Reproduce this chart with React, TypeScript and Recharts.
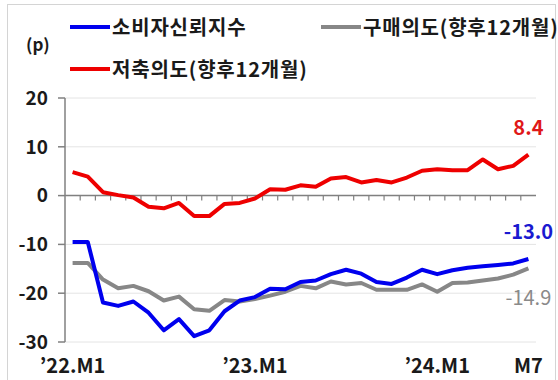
import React from 'react';
import {
  LineChart, Line, XAxis, YAxis, CartesianGrid, ReferenceLine, LabelList, Legend,
} from 'recharts';

const months: string[] = [
  "'22.M1", "'22.M2", "'22.M3", "'22.M4", "'22.M5", "'22.M6", "'22.M7", "'22.M8", "'22.M9", "'22.M10", "'22.M11", "'22.M12",
  "'23.M1", "'23.M2", "'23.M3", "'23.M4", "'23.M5", "'23.M6", "'23.M7", "'23.M8", "'23.M9", "'23.M10", "'23.M11", "'23.M12",
  "'24.M1", "'24.M2", "'24.M3", "'24.M4", "'24.M5", "'24.M6", "'24.M7",
];

const consumerConfidence: number[] = [
  -9.5, -9.5, -21.9, -22.6, -21.7, -24.0, -27.6, -25.3, -28.8, -27.6, -23.7, -21.5,
  -20.8, -19.1, -19.2, -17.7, -17.4, -16.1, -15.2, -16.0, -17.7, -18.1, -16.8, -15.2,
  -16.1, -15.3, -14.8, -14.5, -14.2, -13.9, -13.0,
];

const purchaseIntention: number[] = [
  -13.8, -13.8, -17.2, -19.0, -18.5, -19.6, -21.5, -20.7, -23.3, -23.6, -21.4, -21.7,
  -21.2, -20.5, -19.7, -18.5, -19.0, -17.6, -18.2, -17.9, -19.3, -19.3, -19.3, -18.2,
  -19.7, -17.9, -17.8, -17.4, -17.0, -16.2, -14.9,
];

const savingIntention: number[] = [
  4.8, 3.9, 0.7, 0.1, -0.4, -2.3, -2.6, -1.5, -4.2, -4.2, -1.7, -1.5,
  -0.6, 1.3, 1.2, 2.1, 1.8, 3.5, 3.8, 2.7, 3.2, 2.7, 3.7, 5.1,
  5.4, 5.2, 5.2, 7.4, 5.4, 6.1, 8.4,
];

const xTickIndices: number[] = [0, 12, 24, 30];
const xTickLabels: string[] = ['\u201922.M1', '\u201923.M1', '\u201924.M1', 'M7'];
const yTicks: number[] = [-30, -20, -10, 0, 10, 20];

const SERIES_NAMES = {
  consumer: '소비자신뢰지수',
  purchase: '구매의도(향후12개월)',
  saving: '저축의도(향후12개월)',
};

const COLORS = {
  consumer: '#0000ee',
  purchase: '#878787',
  saving: '#ee0000',
};

const FONT = '"Noto Sans CJK KR", "Noto Sans", sans-serif';

const data = months.map((m, i) => ({
  idx: i,
  month: m,
  consumer: consumerConfidence[i],
  purchase: purchaseIntention[i],
  saving: savingIntention[i],
}));

const boundaries = months.slice(1).map((_, i) => i + 0.5);
const lastIndex = months.length - 1;

const makeEndLabel = (color: string, offset: number, bold: boolean) => (props: any) => {
  const { x, y, index, value } = props;
  if (index !== lastIndex) return null;
  return (
    <text
      x={x}
      y={y + offset}
      dy={7}
      textAnchor="middle"
      fill={color}
      fontFamily={FONT}
      fontWeight={bold ? 700 : 400}
      fontSize={20}
    >
      {Number(value).toFixed(1)}
    </text>
  );
};

const XTick = (props: any) => {
  const { x, y, payload } = props;
  const k = xTickIndices.indexOf(payload.value);
  return (
    <text x={x} y={y} dy={31} textAnchor="middle" fill="#1a1a1a" fontFamily={FONT} fontWeight={700} fontSize={20}>
      {k >= 0 ? xTickLabels[k] : ''}
    </text>
  );
};

const LegendContent = () => {
  const item = (key: 'consumer' | 'purchase' | 'saving', left: number, top: number) => (
    <div style={{ position: 'absolute', left, top, display: 'flex', alignItems: 'center', whiteSpace: 'nowrap' }}>
      <svg width={42} height={6} style={{ display: 'block' }}>
        <line x1={0} y1={3} x2={40} y2={3} stroke={COLORS[key]} strokeWidth={4} />
      </svg>
      <span style={{ fontFamily: FONT, fontWeight: 700, fontSize: 20, letterSpacing: 0.8, color: '#1a1a1a', lineHeight: '24px', marginLeft: 0 }}>
        {SERIES_NAMES[key]}
      </span>
    </div>
  );
  return (
    <div style={{ position: 'relative', width: 558, height: 90 }}>
      {item('consumer', 70, 15)}
      {item('purchase', 321, 15)}
      {item('saving', 70, 57)}
      <div style={{ position: 'absolute', left: 26, top: 32, fontFamily: FONT, fontWeight: 700, fontSize: 17, color: '#1a1a1a', lineHeight: '24px' }}>
        (p)
      </div>
    </div>
  );
};

export default function App() {
  return (
    <div style={{ position: 'absolute', left: 0, top: 0, width: 558, height: 380, overflow: 'hidden', background: '#fff' }}>
      <div style={{ position: 'absolute', left: 7, top: 4, width: 549, height: 400, border: '1px solid #d4d4d4', boxSizing: 'border-box' }} />
      <div style={{ position: 'absolute', left: 0, top: 0 }}>
        <LineChart width={558} height={380} data={data} margin={{ top: 98, right: 22, left: 0, bottom: 0 }}>
          <CartesianGrid vertical={false} stroke="#e4e4e4" strokeWidth={1} />
          <XAxis
            dataKey="idx"
            type="number"
            domain={[-0.5, lastIndex + 0.5]}
            ticks={xTickIndices}
            interval={0}
            axisLine={false}
            tickLine={false}
            tickSize={0}
            tickMargin={0}
            height={38}
            tick={<XTick />}
          />
          <YAxis
            domain={[-30, 20]}
            ticks={yTicks}
            interval={0}
            width={65}
            axisLine={{ stroke: '#808080', strokeWidth: 1.5 }}
            tickLine={{ stroke: '#808080', strokeWidth: 1.5 }}
            tickSize={7}
            tickMargin={10}
            tick={{ fill: '#1a1a1a', fontFamily: FONT, fontWeight: 700, fontSize: 19 }}
          />
          <ReferenceLine y={0} stroke="#808080" strokeWidth={1.5} />
          {boundaries.map((b) => (
            <ReferenceLine
              key={b}
              segment={[{ x: b, y: 0 }, { x: b, y: -1 }]}
              stroke="#808080"
              strokeWidth={1.2}
            />
          ))}
          <Legend
            verticalAlign="middle"
            layout="vertical"
            content={<LegendContent />}
            wrapperStyle={{ position: 'absolute', left: 0, top: 0, width: 558, height: 90 }}
          />
          <Line
            type="linear"
            dataKey="purchase"
            name={SERIES_NAMES.purchase}
            stroke={COLORS.purchase}
            strokeWidth={4}
            dot={false}
            isAnimationActive={false}
            strokeLinejoin="round"
          >
            <LabelList dataKey="purchase" content={makeEndLabel('#8a8a8a', 30, false)} />
          </Line>
          <Line
            type="linear"
            dataKey="consumer"
            name={SERIES_NAMES.consumer}
            stroke={COLORS.consumer}
            strokeWidth={4}
            dot={false}
            isAnimationActive={false}
            strokeLinejoin="round"
          >
            <LabelList dataKey="consumer" content={makeEndLabel('#1a1ad0', -27, true)} />
          </Line>
          <Line
            type="linear"
            dataKey="saving"
            name={SERIES_NAMES.saving}
            stroke={COLORS.saving}
            strokeWidth={4}
            dot={false}
            isAnimationActive={false}
            strokeLinejoin="round"
          >
            <LabelList dataKey="saving" content={makeEndLabel('#e01818', -27, true)} />
          </Line>
        </LineChart>
      </div>
    </div>
  );
}
